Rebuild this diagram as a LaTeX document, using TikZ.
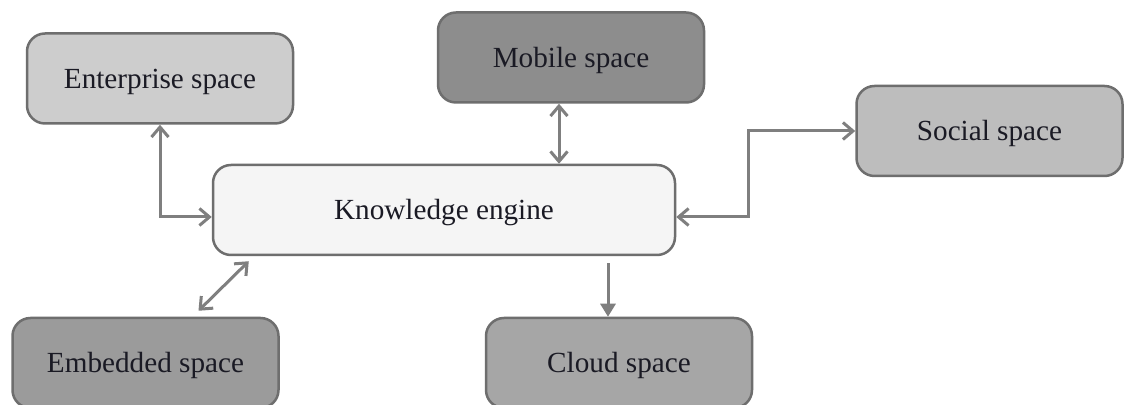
\documentclass[tikz,border=0pt]{standalone}
\usepackage{fontspec}
\setmainfont{Liberation Serif}
\usetikzlibrary{arrows.meta,calc}

\definecolor{edgegray}{HTML}{6E6E6E}
\definecolor{linegray}{HTML}{7F7F7F}
\definecolor{entfill}{HTML}{CDCDCD}
\definecolor{mobfill}{HTML}{8D8D8D}
\definecolor{socfill}{HTML}{BDBDBD}
\definecolor{kwfill}{HTML}{F5F5F5}
\definecolor{embfill}{HTML}{9B9B9B}
\definecolor{cldfill}{HTML}{A6A6A6}
\definecolor{txt}{HTML}{1A1A24}

\begin{document}
\begin{tikzpicture}[x=0.5pt,y=-0.5pt,
  spacebox/.style={draw=edgegray, line width=1.25pt, rounded corners=9pt,
    minimum width=133pt, minimum height=45pt, inner sep=0pt,
    text height=9.6pt, text depth=0pt,
    text=txt, font=\fontsize{14.6}{17}\selectfont},
  link/.style={draw=linegray, line width=1.5pt},
  biarrow/.style={link, {Straight Barb[length=5pt,width=8.5pt]}-{Straight Barb[length=5pt,width=8.5pt]}},
  onearrow/.style={link, -{Triangle[length=6.5pt,width=7.5pt]}}
]
\useasboundingbox[fill=white] (0,0) rectangle (1125,405);

% the six spaces
\node[spacebox, fill=entfill] (ent) at (160,78.5) {Enterprise space};
\node[spacebox, fill=mobfill] (mob) at (571,57.5) {Mobile space};
\node[spacebox, fill=socfill] (soc) at (989.5,131) {Social space};
\node[spacebox, fill=kwfill, minimum width=231pt] (kw) at (444,210) {Knowledge engine};
\node[spacebox, fill=embfill] (emb) at (145.5,363) {Embedded space};
\node[spacebox, fill=cldfill] (cld) at (619,363) {Cloud space};

% connectors between the engine and the spaces
\draw[biarrow] (ent.south) |- ($(kw.west)+(0,7)$);
\draw[biarrow] ($(mob.south)+(-12,0)$) -- ($(kw.north)+(115,0)$);
\draw[biarrow] ($(kw.east)+(0,7)$) -- ++(72,0) |- (soc.west);
\draw[biarrow] ($(emb.north)+(53,-6)$) -- ($(kw.south west)+(37,5)$);
\draw[onearrow] ($(kw.south)+(164,7)$) -- ($(cld.north)+(-11,0)$);
\end{tikzpicture}
\end{document}
